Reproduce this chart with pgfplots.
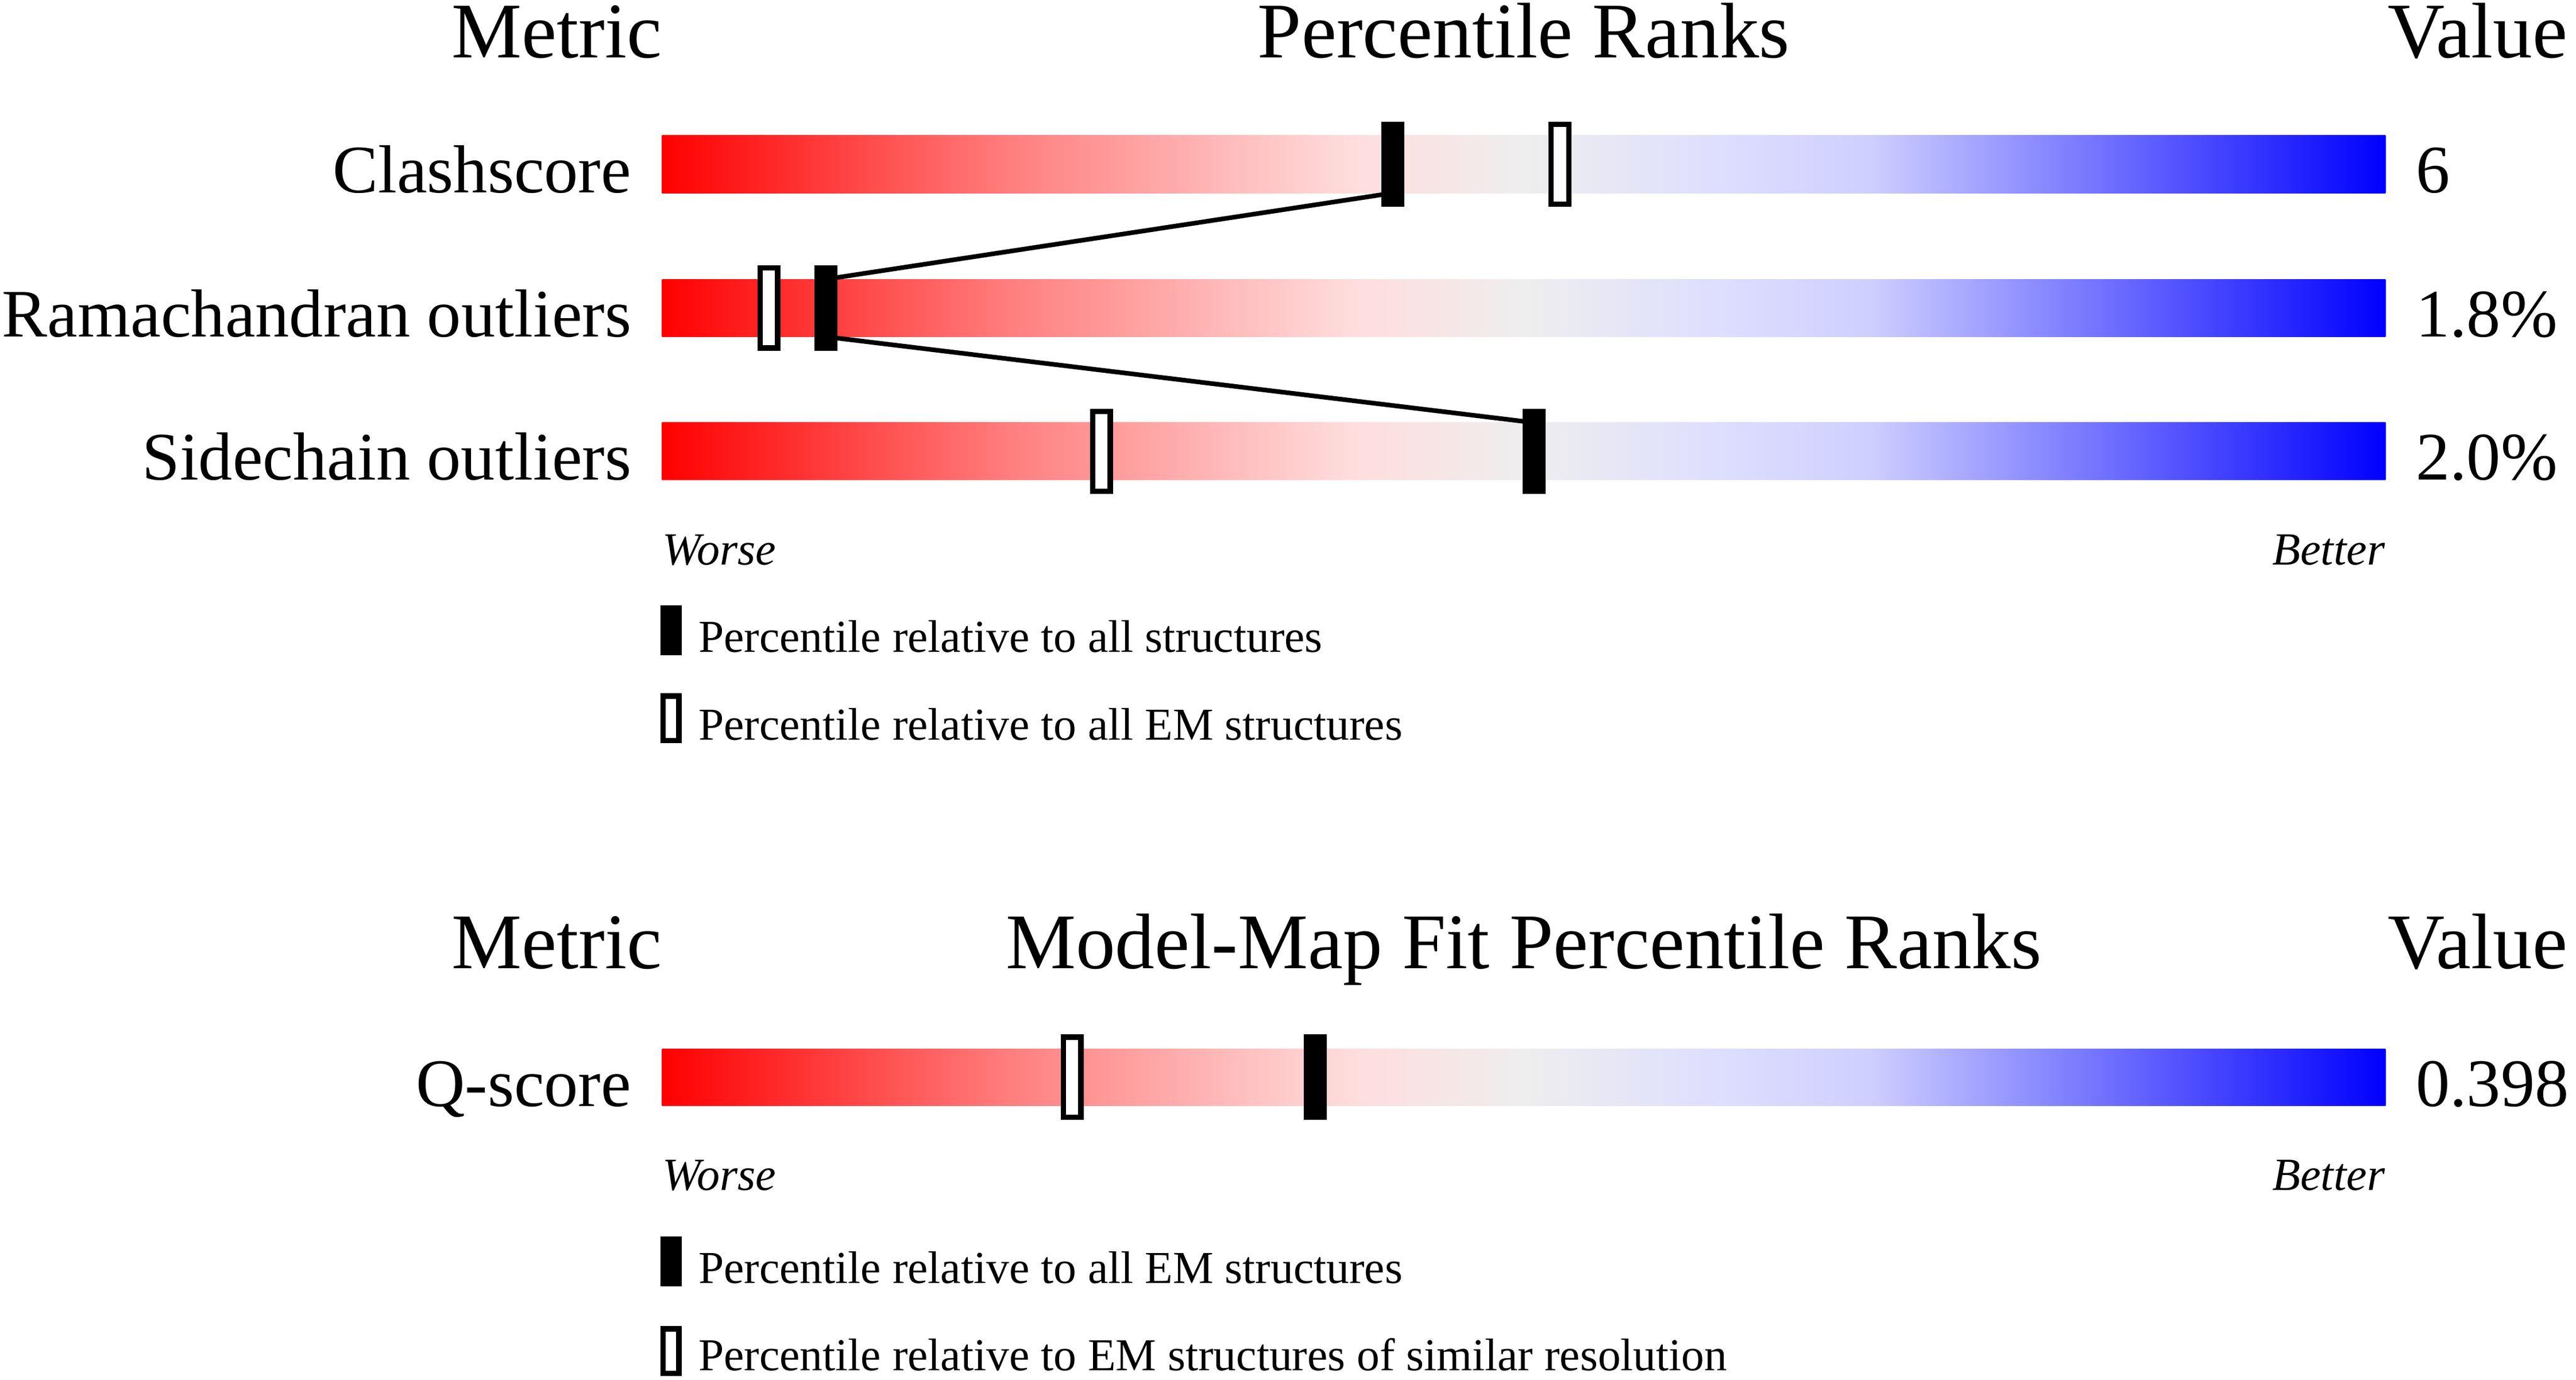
\documentclass[border=0pt]{standalone}
\usepackage{fontspec}
\setmainfont{Liberation Serif}
\usepackage{pgfplots}
\pgfplotsset{compat=1.18}

% slider colours, visible part of the shading runs from 25bp (worse) to 75bp (better)
\definecolor{sRed}{RGB}{255,0,0}
\definecolor{sRose}{RGB}{255,125,125}
\definecolor{sPink}{RGB}{255,221,221}
\definecolor{sGrey}{RGB}{238,238,238}
\definecolor{sLav}{RGB}{221,221,255}
\definecolor{sLav2}{RGB}{207,207,255}
\definecolor{sBlue}{RGB}{0,0,255}
\pgfdeclarehorizontalshading{prank}{100bp}{%
  color(0bp)=(sRed); color(25bp)=(sRed); color(35bp)=(sRose);
  color(45bp)=(sPink); color(50bp)=(sGrey); color(56bp)=(sLav);
  color(60bp)=(sLav2); color(75bp)=(sBlue); color(100bp)=(sBlue)}

% percentile markers
\pgfdeclareplotmark{pfill}{%
  \pgfpathrectangle{\pgfpoint{-3.5pt}{-13pt}}{\pgfpoint{7pt}{26pt}}\pgfusepathqfill}
\pgfdeclareplotmark{popen}{%
  \pgfsetlinewidth{1.65pt}%
  \pgfpathrectangle{\pgfpoint{-2.675pt}{-12.175pt}}{\pgfpoint{5.35pt}{24.35pt}}\pgfusepathqfillstroke}
\pgfdeclareplotmark{lfill}{%
  \pgfpathrectangle{\pgfpoint{-3.25pt}{-7.6pt}}{\pgfpoint{6.5pt}{15.2pt}}\pgfusepathqfill}
\pgfdeclareplotmark{lopen}{%
  \pgfsetlinewidth{1.65pt}%
  \pgfpathrectangle{\pgfpoint{-2.425pt}{-6.775pt}}{\pgfpoint{4.85pt}{13.55pt}}\pgfusepathqfillstroke}

\begin{document}
\begin{tikzpicture}
\begin{axis}[
    width=784pt, height=419.9pt,
    scale only axis,
    hide axis,
    clip=false,
    xmin=-38.418, xmax=111.058,
    ymin=0, ymax=839.8,
    y dir=reverse,
]
% gradient bars
\addplot[draw=none, shade, shading=prank] coordinates {(0,82.5) (100,82.5) (100,117.5) (0,117.5)};
\addplot[draw=none, shade, shading=prank] coordinates {(0,170) (100,170) (100,205) (0,205)};
\addplot[draw=none, shade, shading=prank] coordinates {(0,257.3) (100,257.3) (100,292.2) (0,292.2)};
\addplot[draw=none, shade, shading=prank] coordinates {(0,638.4) (100,638.4) (100,673.2) (0,673.2)};

% line joining the percentiles relative to all structures
\addplot[black, line width=1.4pt] coordinates {(42.4,117.5) (9.5,170) (9.5,205) (50.6,257.3)};

% percentile ranks
\addplot[only marks, mark=popen, mark options={draw=black, fill=white}] coordinates {
    (52.1,100) (6.2,187.5) (25.5,274.8)};
\addplot[only marks, mark=pfill, mark options={fill=black}] coordinates {
    (42.4,100) (9.5,187.5) (50.6,274.8)};
\addplot[only marks, mark=popen, mark options={draw=black, fill=white}] coordinates {(23.8,655.8)};
\addplot[only marks, mark=pfill, mark options={fill=black}] coordinates {(37.9,655.8)};

% legend symbols
\addplot[only marks, mark=lfill, mark options={fill=black}] coordinates {(0.52,383.8) (0.52,767.9)};
\addplot[only marks, mark=lopen, mark options={draw=black, fill=white}] coordinates {(0.52,437.2) (0.52,822.5)};

\begin{scope}[every node/.style={inner sep=0pt}]
% headers
\node[anchor=base, font=\fontsize{24}{28}\selectfont] at (axis cs:-6.12,35) {Metric};
\node[anchor=base, font=\fontsize{24}{28}\selectfont] at (axis cs:50,35) {Percentile Ranks};
\node[anchor=base west, font=\fontsize{24}{28}\selectfont] at (axis cs:100.1,35) {Value};
\node[anchor=base, font=\fontsize{24}{28}\selectfont] at (axis cs:-6.12,589.5) {Metric};
\node[anchor=base, font=\fontsize{24}{28}\selectfont] at (axis cs:50,589.5) {Model-Map Fit Percentile Ranks};
\node[anchor=base west, font=\fontsize{24}{28}\selectfont] at (axis cs:100.1,589.5) {Value};

% metric names
\node[anchor=base east, font=\fontsize{20.7}{24}\selectfont] at (axis cs:-1.754,117.4) {Clashscore};
\node[anchor=base east, font=\fontsize{20.7}{24}\selectfont] at (axis cs:-1.754,204.9) {Ramachandran outliers};
\node[anchor=base east, font=\fontsize{20.7}{24}\selectfont] at (axis cs:-1.754,292.2) {Sidechain outliers};
\node[anchor=base east, font=\fontsize{20.7}{24}\selectfont] at (axis cs:-1.754,673.4) {Q-score};

% values
\node[anchor=base west, font=\fontsize{20.7}{24}\selectfont] at (axis cs:101.72,117.4) {6};
\node[anchor=base west, font=\fontsize{20.7}{24}\selectfont] at (axis cs:101.72,204.9) {1.8\%};
\node[anchor=base west, font=\fontsize{20.7}{24}\selectfont] at (axis cs:101.72,292.2) {2.0\%};
\node[anchor=base west, font=\fontsize{20.7}{24}\selectfont] at (axis cs:101.72,673.4) {0.398};

% worse / better
\node[anchor=base west, font=\fontsize{14}{16}\selectfont\itshape] at (axis cs:0,343.7) {Worse};
\node[anchor=base east, font=\fontsize{14}{16}\selectfont\itshape] at (axis cs:100,343.7) {Better};
\node[anchor=base west, font=\fontsize{14}{16}\selectfont\itshape] at (axis cs:0,724.5) {Worse};
\node[anchor=base east, font=\fontsize{14}{16}\selectfont\itshape] at (axis cs:100,724.5) {Better};

% legend texts
\node[anchor=base west, font=\fontsize{13.9}{16}\selectfont] at (axis cs:2.08,396.9) {Percentile relative to all structures};
\node[anchor=base west, font=\fontsize{13.9}{16}\selectfont] at (axis cs:2.08,450.4) {Percentile relative to all EM structures};
\node[anchor=base west, font=\fontsize{13.9}{16}\selectfont] at (axis cs:2.08,781.2) {Percentile relative to all EM structures};
\node[anchor=base west, font=\fontsize{13.9}{16}\selectfont] at (axis cs:2.08,834.5) {Percentile relative to EM structures of similar resolution};
\end{scope}
\end{axis}
\pgfresetboundingbox
\path (current axis.south west) rectangle (current axis.north east);
\end{tikzpicture}
\end{document}
